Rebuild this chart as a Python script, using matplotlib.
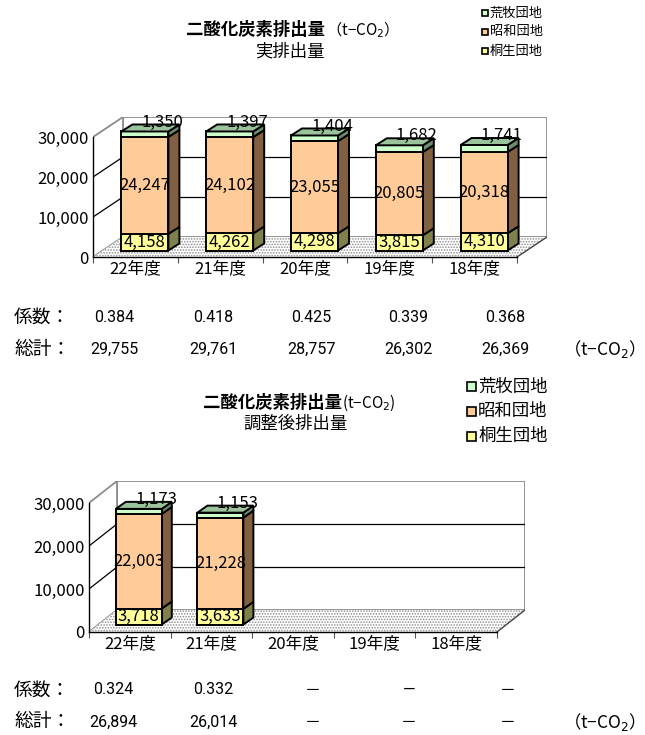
import matplotlib
matplotlib.use('Agg')
import matplotlib.pyplot as plt
from matplotlib.patches import Polygon, Rectangle
import numpy as np

CJK = 'Noto Sans CJK JP'
plt.rcParams['font.family'] = [CJK, 'DejaVu Sans']
plt.rcParams['hatch.linewidth'] = 0.8
NARROW = ['Liberation Sans Narrow', 'Roboto', CJK, 'DejaVu Sans']

W, H = 645, 735
fig = plt.figure(figsize=(W / 100, H / 100), dpi=100)

# ---------------- data ----------------
categories = ['22年度', '21年度', '20年度', '19年度', '18年度']
series_names = ['荒牧団地', '昭和団地', '桐生団地']   # legend order (top to bottom)

actual_kiryu = [4158, 4262, 4298, 3815, 4310]
actual_showa = [24247, 24102, 23055, 20805, 20318]
actual_aramaki = [1350, 1397, 1404, 1682, 1741]
actual_coef = ['0.384', '0.418', '0.425', '0.339', '0.368']
actual_total = ['29,755', '29,761', '28,757', '26,302', '26,369']

adj_kiryu = [3718, 3633, None, None, None]
adj_showa = [22003, 21228, None, None, None]
adj_aramaki = [1173, 1153, None, None, None]
adj_coef = ['0.324', '0.332', '－', '―', '－']
adj_total = ['26,894', '26,014', '－', '－', '－']

y_ticks = [0, 10000, 20000, 30000]

# ---------------- styles ----------------
front_col = ['#FFFF99', '#FFCC99', '#CCFFCC']   # kiryu, showa, aramaki
side_col = ['#80804C', '#806040', '#6E8C6E']
top_col = '#9CC49C'


def px(x, y):
    return x / W, 1 - y / H


def draw_chart(x0, y0, catw, dxp, dyp, ppu, bar_wp, bar_dxp, bar_dyp,
               kiryu, showa, aramaki):
    ymax_front = y_ticks[-1]
    DX = dxp / catw
    DY = dyp / ppu
    width_px = 5 * catw + dxp
    height_px = ymax_front * ppu + dyp
    ax = fig.add_axes([x0 / W, 1 - y0 / H, width_px / W, height_px / H])
    ax.set_xlim(-0.5, 4.5 + DX)
    ax.set_ylim(0, ymax_front + DY)
    ax.patch.set_visible(False)
    for s in ['top', 'right']:
        ax.spines[s].set_visible(False)
    ax.spines['left'].set_bounds(0, ymax_front)
    ax.spines['bottom'].set_bounds(-0.5, 4.5)
    for s in ['left', 'bottom']:
        ax.spines[s].set_color('black')
        ax.spines[s].set_linewidth(1.0)
        ax.spines[s].set_zorder(4)

    gray = '#8C8C8C'
    # back wall
    ax.add_patch(Rectangle((-0.5 + DX, DY), 5, ymax_front, facecolor='white',
                           edgecolor=gray, lw=1.3, zorder=0.5))
    # left wall
    ax.add_patch(Polygon([(-0.5, 0), (-0.5 + DX, DY), (-0.5 + DX, ymax_front + DY),
                          (-0.5, ymax_front)], closed=True, facecolor='white',
                         edgecolor=gray, lw=1.3, zorder=0.6))
    # floor
    ax.add_patch(Polygon([(-0.5, 0), (4.5, 0), (4.5 + DX, DY), (-0.5 + DX, DY)],
                         closed=True, facecolor='white', edgecolor='#909090',
                         hatch='......', lw=0, zorder=0.7))
    ax.plot([4.5, 4.5 + DX], [0, DY], color='#444444', lw=1.0, zorder=0.8)
    # gridlines
    for v in y_ticks[1:-1]:
        ax.plot([-0.5 + DX, 4.5 + DX], [v + DY, v + DY], color='black', lw=0.9, zorder=0.9)
        ax.plot([-0.5, -0.5 + DX], [v, v + DY], color='black', lw=0.9, zorder=0.9)

    bw = bar_wp / catw
    bdx = bar_dxp / catw
    bdy = bar_dyp / ppu
    base = (DY - bdy) / 2
    shift = (DX - bdx) / 2
    for i in range(len(categories)):
        vals = [kiryu[i], showa[i], aramaki[i]]
        if vals[0] is None:
            continue
        xc = i + shift
        cum = base
        for k, v in enumerate(vals):
            xr = xc + bw / 2
            ax.add_patch(Polygon([(xr, cum), (xr + bdx, cum + bdy), (xr + bdx, cum + v + bdy),
                                  (xr, cum + v)], closed=True, facecolor=side_col[k],
                                 edgecolor='black', lw=1.4, zorder=3))
            ax.bar(xc, v, bottom=cum, width=bw, color=front_col[k], edgecolor='black',
                   lw=1.4, zorder=3)
            if k < 2:
                ax.text(xc, cum + v / 2, f'{v:,}', ha='center', va='center',
                        fontsize=12, zorder=5)
            cum += v
        xl = xc - bw / 2
        ax.add_patch(Polygon([(xl, cum), (xl + bw, cum), (xl + bw + bdx, cum + bdy),
                              (xl + bdx, cum + bdy)], closed=True, facecolor=top_col,
                             edgecolor='black', lw=1.4, zorder=3))
        ax.text(xc + 17.5 / catw, cum + 9.5 / ppu, f'{vals[2]:,}', ha='center',
                va='center', fontsize=12, zorder=5)

    ax.set_yticks(y_ticks)
    ax.set_yticklabels([f'{v:,}' for v in y_ticks], fontsize=12)
    ax.tick_params(axis='y', length=0, pad=3)
    ax.set_xticks(range(len(categories)))
    ax.set_xticklabels(categories, fontsize=12)
    ax.set_xticks(np.arange(-0.5, 5.0, 1.0), minor=True)
    ax.tick_params(axis='x', which='major', length=0, pad=2)
    ax.tick_params(axis='x', which='minor', length=4, width=0.8, color='#555555')
    return ax


# ---------------- top chart ----------------
draw_chart(93, 257, 84.8, 30, 20, 40 / 10000, 47, 11, 7,
           actual_kiryu, actual_showa, actual_aramaki)
# ---------------- bottom chart ----------------
draw_chart(89, 632, 81.6, 28, 22, 43 / 10000, 46, 10, 7,
           adj_kiryu, adj_showa, adj_aramaki)

# ---------------- titles ----------------
fig.text(*px(325, 30), '二酸化炭素排出量', ha='right', va='center', fontsize=12.5,
         fontweight='bold')
fig.text(*px(326, 30), '（t−CO$_2$）', ha='left', va='center', fontsize=11)
fig.text(*px(290, 51), '実排出量', ha='center', va='center', fontsize=12.5)

fig.text(*px(342, 403), '二酸化炭素排出量', ha='right', va='center', fontsize=12.5,
         fontweight='bold')
fig.text(*px(342, 403), '(t−CO$_2$)', ha='left', va='center', fontsize=11)
fig.text(*px(296, 424), '調整後排出量', ha='center', va='center', fontsize=12.5)

# ---------------- legends ----------------
leg_cols = [front_col[2], front_col[1], front_col[0]]
for j, name in enumerate(series_names):
    y = [13, 32, 51][j]
    fig.add_artist(Rectangle(px(482, y + 3), 6 / W, 6 / H, facecolor=leg_cols[j],
                             edgecolor='black', lw=1.2, transform=fig.transFigure))
    fig.text(*px(490, y), name, ha='left', va='center', fontsize=9.5)
for j, name in enumerate(series_names):
    y = [387, 411, 436][j]
    fig.add_artist(Rectangle(px(467, y + 4.5), 9 / W, 9 / H, facecolor=leg_cols[j],
                             edgecolor='black', lw=1.2, transform=fig.transFigure))
    fig.text(*px(478, y), name, ha='left', va='center', fontsize=12.5)

# ---------------- tables ----------------
col_x = [114, 213, 311, 408, 505]
col_x2 = [113, 213, 313, 409, 508]


def table(y1, y2, coefs, totals, xs):
    fig.text(*px(14, y1), '係数：', ha='left', va='center', fontsize=13.5)
    fig.text(*px(14, y2), '総計：', ha='left', va='center', fontsize=13.5)
    for x, c, t in zip(xs, coefs, totals):
        fig.text(*px(x, y1), c, ha='center', va='center', fontsize=11.5, family=NARROW)
        fig.text(*px(x, y2), t, ha='center', va='center', fontsize=11.5, family=NARROW)
    fig.text(*px(600, y2), '（t−CO$_2$）', ha='center', va='center', fontsize=12.5)


table(317, 349, actual_coef, actual_total, col_x)
table(690, 722, adj_coef, adj_total, col_x2)

fig.savefig('out.png', dpi=100)
